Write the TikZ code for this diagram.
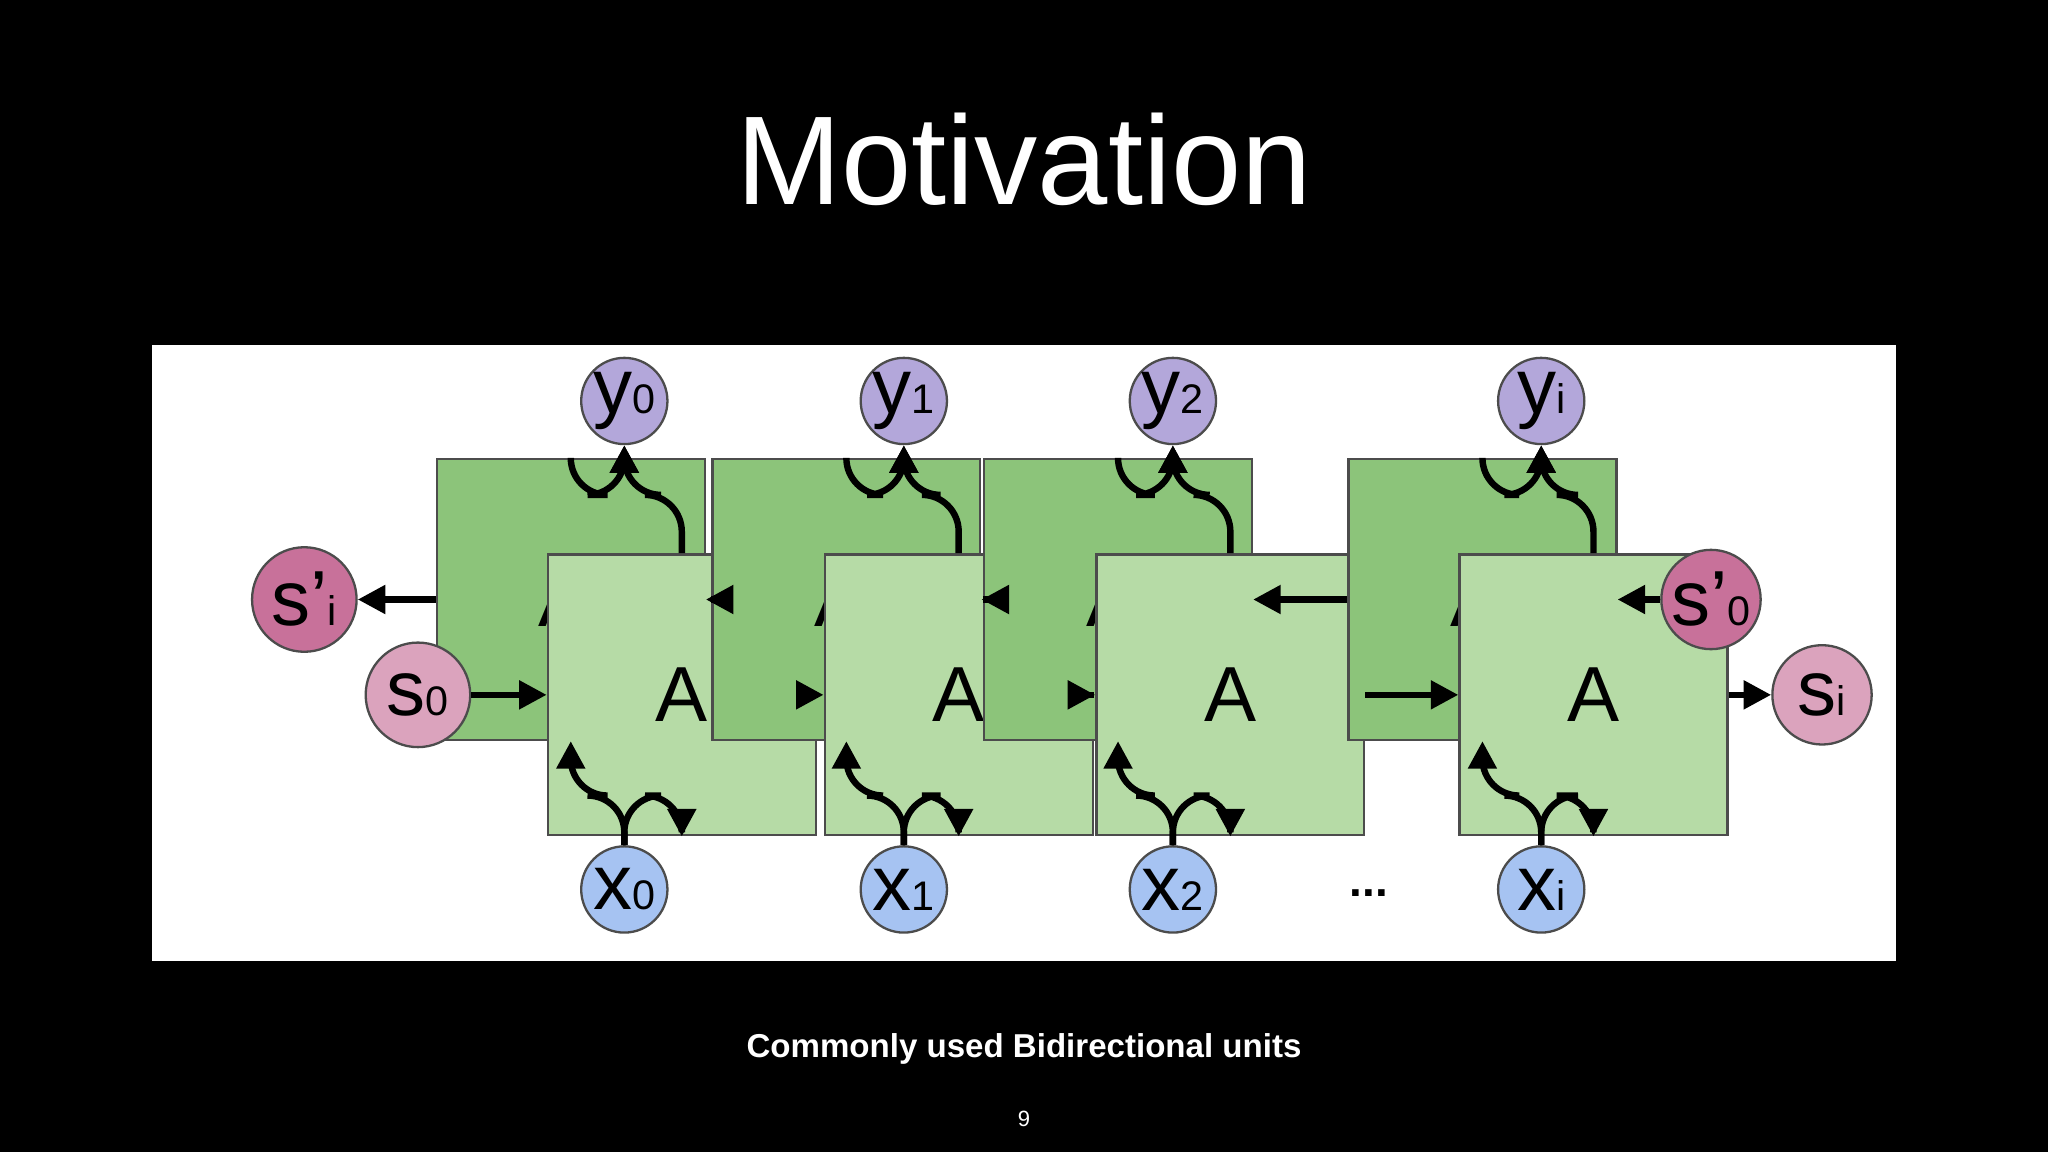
\documentclass[tikz,border=0pt]{standalone}
\usepackage{fontspec}
\setmainfont{Liberation Sans}
\usetikzlibrary{arrows.meta,calc}
\definecolor{gA}{HTML}{8CC47A}
\definecolor{gB}{HTML}{B6DBA6}
\definecolor{pY}{HTML}{B3A7DA}
\definecolor{bX}{HTML}{A6C3F2}
\definecolor{pS}{HTML}{C8719A}
\definecolor{pT}{HTML}{DBA3BD}
\begin{document}
\begin{tikzpicture}[x=0.01cm,y=-0.01cm,
  box/.style={draw=black!70,line width=0.5pt,minimum width=2.05cm,minimum height=2.15cm,inner sep=0pt,font=\fontsize{17}{17}\selectfont},
  circ/.style={circle,draw=black!70,line width=0.5pt,minimum size=#1,inner sep=0pt,font=\fontsize{17}{17}\selectfont},
  conn/.style={line width=1.4pt,-{Triangle[length=6pt,width=6pt]}},
  sub/.style={}]
\newcommand{\sbs}[1]{{\fontsize{9}{9}\selectfont#1}}
\fill[black] (0,0) rectangle (1568,882);
\useasboundingbox (0,0) rectangle (1568,882);
\fill[white] (116,264) rectangle (1452,736);
\node[white,font=\fontsize{27.5}{28}\selectfont] (title) at (784,122) {Motivation};
\node[white,font=\bfseries\fontsize{7.2}{8}\selectfont] (cap) at (784,803) {Commonly used Bidirectional units};
\node[white,font=\fontsize{4.8}{5}\selectfont] (pg) at (784,857) {9};
\foreach \i/\cx/\ax/\bx/\s in {0/478/437/522/0,1/692/648/734/1,2/898/856/942/2,3/1180/1135/1220/i}{
  \node[box,fill=gA] (Ap\i) at (\ax,459) {A'};
  \node[box,fill=gB] (A\i) at (\bx,532) {A};
  \node[circ=0.66cm,fill=pY] (y\i) at (\cx,307) {y\sbs{\s}};
  \node[circ=0.66cm,fill=bX] (x\i) at (\cx,681) {x\sbs{\s}};
}
\node[circ=0.8cm,fill=pS] (spi) at (233,459) {s'\sbs{i}};
\node[circ=0.8cm,fill=pT] (s0) at (320,532) {s\sbs{0}};
\node[circ=0.76cm,fill=pS] (sp0) at (1310,459) {s'\sbs{0}};
\node[circ=0.76cm,fill=pT] (si) at (1395,532) {s\sbs{i}};
\node[font=\bfseries\fontsize{10}{10}\selectfont] (dots) at (1048,684) {...};
\foreach \i in {0,1,2,3}{
  \coordinate (m\i) at ($(y\i.south)+(0,38)$);
  \draw[conn,rounded corners=8pt] (Ap\i.north) |- (m\i) -- (y\i.south);
  \draw[conn,rounded corners=8pt] (A\i.north) |- (m\i) -- (y\i.south);
  \coordinate (b\i) at ($(x\i.north)+(0,-38)$);
  \draw[conn,rounded corners=8pt] (x\i.north) -- (b\i) -| (Ap\i.south);
  \draw[conn,rounded corners=8pt] (x\i.north) -- (b\i) -| (A\i.south);
}
\draw[conn] (s0) -- (A0);
\draw[conn] (A0) -- (A1);
\draw[conn] (A1) -- (A2);
\draw[conn] (A2) -- (A3);
\draw[conn] (A3) -- (si);
\draw[conn] (sp0) -- (Ap3);
\draw[conn] (Ap3) -- (Ap2);
\draw[conn] (Ap2) -- (Ap1);
\draw[conn] (Ap1) -- (Ap0);
\draw[conn] (Ap0) -- (spi);
\end{tikzpicture}
\end{document}
